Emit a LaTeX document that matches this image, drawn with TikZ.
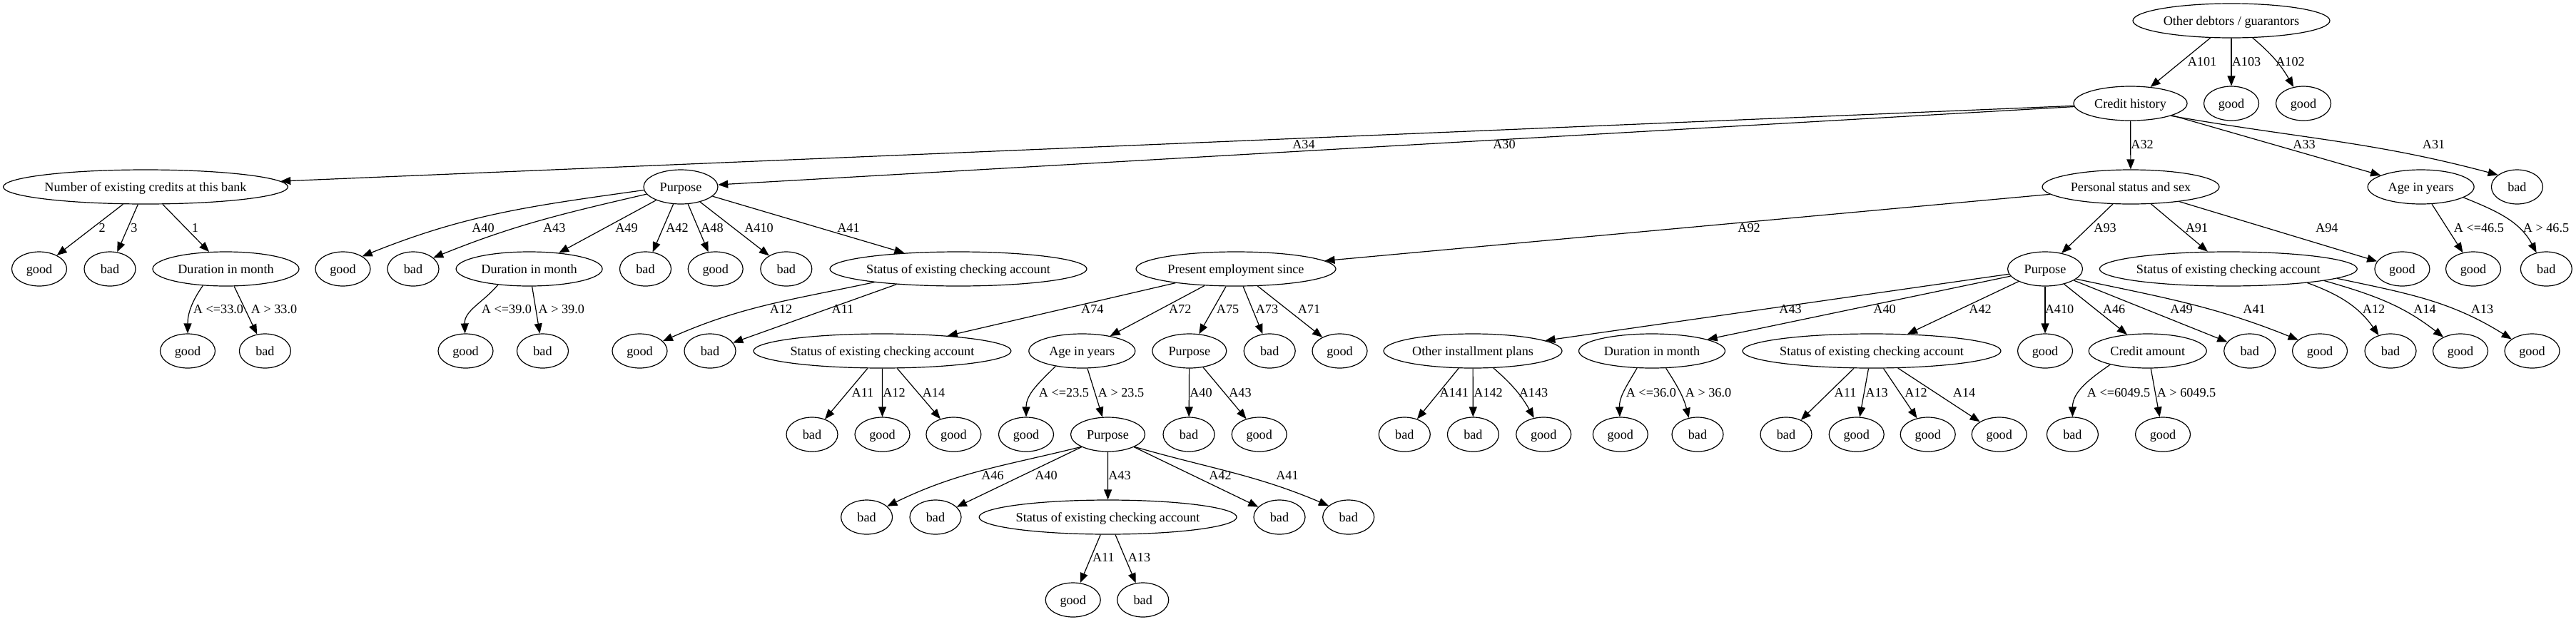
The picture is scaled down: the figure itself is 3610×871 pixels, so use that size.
\documentclass[tikz,border=0pt]{standalone}
\usepackage{fontspec}
\setmainfont{Liberation Serif}
\usetikzlibrary{shapes.geometric,arrows.meta}
\newcommand\nf{\fontsize{18.2}{21}\selectfont}
\newcommand\nt[1]{\makebox[0pt]{#1}}
\begin{document}
\begin{tikzpicture}[x=1pt,y=1pt,
  nd/.style={draw, ellipse, line width=1.2pt, inner sep=0pt, minimum height=48pt, text height=12pt, text depth=0pt, font=\nf},
  gd/.style={nd, minimum width=77pt},
  bd/.style={nd, minimum width=72pt},
  ar/.style={line width=1.2pt, -{Triangle[length=14pt,width=11pt]}},
  el/.style={inner sep=0pt, text height=12pt, text depth=0pt, font=\nf}]
\useasboundingbox (0,0) rectangle (3610,-871);
% row 0-1
\node[nd, minimum width=276pt] (root) at (3127,-29) {\nt{Other debtors / guarantors}};
\node[nd, minimum width=159pt] (ch) at (2985.5,-145) {\nt{Credit history}};
\node[gd] (g103) at (3127,-145) {\nt{good}};
\node[gd] (g102) at (3228,-145) {\nt{good}};
% row 2
\node[nd, minimum width=399pt] (nec) at (204,-262) {\nt{Number of existing credits at this bank}};
\node[nd, minimum width=104pt] (p30) at (954,-262) {\nt{Purpose}};
\node[nd, minimum width=248pt] (pss) at (2986,-262) {\nt{Personal status and sex}};
\node[nd, minimum width=149pt] (age33) at (3392.6,-262) {\nt{Age in years}};
\node[bd] (b31) at (3527.4,-262) {\nt{bad}};
% row 3
\node[gd] (g2) at (55,-377) {\nt{good}};
\node[bd] (b3) at (154,-377) {\nt{bad}};
\node[nd, minimum width=205pt] (dur1) at (316.5,-377) {\nt{Duration in month}};
\node[gd] (g40) at (480.5,-377) {\nt{good}};
\node[bd] (b43) at (579,-377) {\nt{bad}};
\node[nd, minimum width=205pt] (dur49) at (741.6,-377) {\nt{Duration in month}};
\node[bd] (b42) at (904.5,-377) {\nt{bad}};
\node[gd] (g48) at (1002.7,-377) {\nt{good}};
\node[bd] (b410) at (1101.8,-377) {\nt{bad}};
\node[nd, minimum width=360pt] (s41) at (1343,-377) {\nt{Status of existing checking account}};
\node[nd, minimum width=280pt] (pes) at (1732,-377) {\nt{Present employment since}};
\node[nd, minimum width=105pt] (p93) at (2866,-377) {\nt{Purpose}};
\node[nd, minimum width=361pt] (s91) at (3122.8,-377) {\nt{Status of existing checking account}};
\node[gd] (g94) at (3366.4,-377) {\nt{good}};
\node[gd] (g465) at (3466,-377) {\nt{good}};
\node[bd] (b465) at (3568.3,-377) {\nt{bad}};
% row 4
\node[gd] (g33) at (263,-492) {\nt{good}};
\node[bd] (b33) at (371.4,-492) {\nt{bad}};
\node[gd] (g39) at (652.5,-492) {\nt{good}};
\node[bd] (b39) at (760.5,-492) {\nt{bad}};
\node[gd] (g12a) at (896.5,-492) {\nt{good}};
\node[bd] (b11a) at (995,-492) {\nt{bad}};
\node[nd, minimum width=361pt] (s74) at (1236.4,-492) {\nt{Status of existing checking account}};
\node[nd, minimum width=149pt] (age72) at (1516.3,-492) {\nt{Age in years}};
\node[nd, minimum width=104pt] (p75) at (1666.8,-492) {\nt{Purpose}};
\node[bd] (b73) at (1779.2,-492) {\nt{bad}};
\node[gd] (g71) at (1877.5,-492) {\nt{good}};
\node[nd, minimum width=250pt] (oip) at (2064,-492) {\nt{Other installment plans}};
\node[nd, minimum width=205pt] (dur40) at (2315,-492) {\nt{Duration in month}};
\node[nd, minimum width=362pt] (s42) at (2623,-492) {\nt{Status of existing checking account}};
\node[gd] (g410) at (2866,-492) {\nt{good}};
\node[nd, minimum width=165pt] (ca) at (3009.7,-492) {\nt{Credit amount}};
\node[bd] (b49) at (3152.7,-492) {\nt{bad}};
\node[gd] (g41) at (3251,-492) {\nt{good}};
\node[bd] (b12b) at (3350,-492) {\nt{bad}};
\node[gd] (g14b) at (3448,-492) {\nt{good}};
\node[gd] (g13b) at (3548.5,-492) {\nt{good}};
% row 5
\node[bd] (b11c) at (1138,-609) {\nt{bad}};
\node[gd] (g12c) at (1236.5,-609) {\nt{good}};
\node[gd] (g14c) at (1336.4,-609) {\nt{good}};
\node[gd] (g235) at (1438,-609) {\nt{good}};
\node[nd, minimum width=104pt] (p235) at (1552.5,-609) {\nt{Purpose}};
\node[bd] (b40d) at (1666,-609) {\nt{bad}};
\node[gd] (g43d) at (1764.7,-609) {\nt{good}};
\node[bd] (b141) at (1968.3,-609) {\nt{bad}};
\node[bd] (b142) at (2064.4,-609) {\nt{bad}};
\node[gd] (g143) at (2163.2,-609) {\nt{good}};
\node[gd] (g36) at (2270.8,-609) {\nt{good}};
\node[bd] (b36) at (2379,-609) {\nt{bad}};
\node[bd] (b11e) at (2503,-609) {\nt{bad}};
\node[gd] (g13e) at (2601.7,-609) {\nt{good}};
\node[gd] (g12e) at (2701.7,-609) {\nt{good}};
\node[gd] (g14e) at (2801.7,-609) {\nt{good}};
\node[bd] (b6049) at (2904.4,-609) {\nt{bad}};
\node[gd] (g6049) at (3031,-609) {\nt{good}};
% row 6
\node[bd] (b46f) at (1214.6,-725) {\nt{bad}};
\node[bd] (b40f) at (1311,-725) {\nt{bad}};
\node[nd, minimum width=361pt] (s43f) at (1552.6,-725) {\nt{Status of existing checking account}};
\node[bd] (b42f) at (1793,-725) {\nt{bad}};
\node[bd] (b41f) at (1889.7,-725) {\nt{bad}};
% row 7
\node[gd] (g11g) at (1503.7,-841) {\nt{good}};
\node[bd] (b13g) at (1601.7,-841) {\nt{bad}};

% edges
\draw[ar] (root) -- (ch);
\draw[ar] (root) -- (g103);
\draw[ar] (root) to[bend left=10] (g102);
\draw[ar] (ch) -- (nec);
\draw[ar] (ch) -- (p30);
\draw[ar] (ch) -- (pss);
\draw[ar] (ch) -- (age33);
\draw[ar] (ch.-17) to[out=-10, in=165] (b31.148);
\draw[ar] (nec) -- (g2);
\draw[ar] (nec) -- (b3);
\draw[ar] (nec) -- (dur1);
\draw[ar] (p30.185) to[out=188, in=22] (g40.33);
\draw[ar] (p30.192) to[out=193, in=22] (b43.29);
\draw[ar] (p30) -- (dur49);
\draw[ar] (p30) -- (b42);
\draw[ar] (p30) -- (g48);
\draw[ar] (p30) -- (b410);
\draw[ar] (p30) -- (s41);
\draw[ar] (pss) -- (pes);
\draw[ar] (pss) -- (p93);
\draw[ar] (pss) -- (s91);
\draw[ar] (pss) -- (g94);
\draw[ar] (age33) -- (g465);
\draw[ar] (age33.-14) to[out=-22, in=118] (b465.121);
\draw[ar] (dur1.-144) to[out=-125, in=90] (g33);
\draw[ar] (dur1) -- (b33);
\draw[ar] (dur49.-153) to[out=-130, in=92] (g39);
\draw[ar] (dur49) -- (b39);
\draw[ar] (s41.-171) to[out=192, in=24] (g12a.23);
\draw[ar] (s41.-166) -- (b11a);
\draw[ar] (pes) -- (s74);
\draw[ar] (pes) -- (age72);
\draw[ar] (pes) -- (p75);
\draw[ar] (pes) -- (b73);
\draw[ar] (pes) -- (g71);
\draw[ar] (p93) -- (oip);
\draw[ar] (p93) -- (dur40);
\draw[ar] (p93) -- (s42);
\draw[ar] (p93) -- (g410);
\draw[ar] (p93) -- (ca);
\draw[ar] (p93) -- (b49);
\draw[ar] (p93.-18) to[out=-12, in=158] (g41.153);
\draw[ar] (s91.-10) to[out=-20, in=125] (b12b.127);
\draw[ar] (s91.-7) to[out=-16, in=142] (g14b.141);
\draw[ar] (s91.-5) to[out=-12, in=148] (g13b.150);
\draw[ar] (s74) -- (b11c);
\draw[ar] (s74) -- (g12c);
\draw[ar] (s74) -- (g14c);
\draw[ar] (age72.-150) to[out=-135, in=90] (g235);
\draw[ar] (age72) -- (p235);
\draw[ar] (p75) -- (b40d);
\draw[ar] (p75) -- (g43d);
\draw[ar] (oip) -- (b141);
\draw[ar] (oip) -- (b142);
\draw[ar] (oip) to[bend left=10] (g143);
\draw[ar] (dur40.-131) to[out=-120, in=92] (g36);
\draw[ar] (dur40.-51) to[out=-57, in=104] (b36.118);
\draw[ar] (s42) -- (b11e);
\draw[ar] (s42) -- (g13e);
\draw[ar] (s42) -- (g12e);
\draw[ar] (s42) -- (g14e);
\draw[ar] (ca.-160) to[out=-145, in=90] (b6049);
\draw[ar] (ca) -- (g6049);
\draw[ar] (p235.-155) to[out=194, in=26] (b46f.28);
\draw[ar] (p235) -- (b40f);
\draw[ar] (p235) -- (s43f);
\draw[ar] (p235) -- (b42f);
\draw[ar] (p235.-25) to[out=-16, in=157] (b41f.150);
\draw[ar] (s43f) -- (g11g);
\draw[ar] (s43f) -- (b13g);

% edge labels
\node[el] (l1) at (3086,-86.7) {A101};
\node[el] (l2) at (3148,-86.7) {A103};
\node[el] (l3) at (3209.5,-86.7) {A102};
\node[el] (l4) at (1827,-202.3) {A34};
\node[el] (l5) at (2108,-202.3) {A30};
\node[el] (l6) at (3002,-202.3) {A32};
\node[el] (l7) at (3229,-202.3) {A33};
\node[el] (l8) at (3410.6,-202.3) {A31};
\node[el] (l9) at (143.2,-319) {2};
\node[el] (l10) at (188,-319) {3};
\node[el] (l11) at (273.5,-319) {1};
\node[el] (l12) at (677,-319) {A40};
\node[el] (l13) at (776.7,-319) {A43};
\node[el] (l14) at (878,-319) {A49};
\node[el] (l15) at (949,-319) {A42};
\node[el] (l16) at (998,-319) {A48};
\node[el] (l17) at (1063.5,-319) {A410};
\node[el] (l18) at (1189,-319) {A41};
\node[el] (l19) at (2451,-319) {A92};
\node[el] (l20) at (2950,-319) {A93};
\node[el] (l21) at (3078.4,-319) {A91};
\node[el] (l22) at (3260.8,-319) {A94};
\node[el] (l23) at (3473.8,-319) {A <=46.5};
\node[el] (l24) at (3568,-319) {A > 46.5};
\node[el] (l25) at (306,-433.3) {A <=33.0};
\node[el] (l26) at (384,-433.3) {A > 33.0};
\node[el] (l27) at (710,-433.3) {A <=39.0};
\node[el] (l28) at (786.8,-433.3) {A > 39.0};
\node[el] (l29) at (1094.6,-433.3) {A12};
\node[el] (l30) at (1181,-433.3) {A11};
\node[el] (l31) at (1530.8,-433.3) {A74};
\node[el] (l32) at (1653.7,-433.3) {A72};
\node[el] (l33) at (1720.6,-433.3) {A75};
\node[el] (l34) at (1775.5,-433.3) {A73};
\node[el] (l35) at (1834.5,-433.3) {A71};
\node[el] (l36) at (2509,-433.3) {A43};
\node[el] (l37) at (2641,-433.3) {A40};
\node[el] (l38) at (2775,-433.3) {A42};
\node[el] (l39) at (2886,-433.3) {A410};
\node[el] (l40) at (2962.6,-433.3) {A46};
\node[el] (l41) at (3057,-433.3) {A49};
\node[el] (l42) at (3159,-433.3) {A41};
\node[el] (l43) at (3326.5,-433.3) {A12};
\node[el] (l44) at (3398,-433.3) {A14};
\node[el] (l45) at (3478.6,-433.3) {A13};
\node[el] (l46) at (1209,-550) {A11};
\node[el] (l47) at (1253,-550) {A12};
\node[el] (l48) at (1308.5,-550) {A14};
\node[el] (l49) at (1491,-550) {A <=23.5};
\node[el] (l50) at (1571,-550) {A > 23.5};
\node[el] (l51) at (1683,-550) {A40};
\node[el] (l52) at (1738,-550) {A43};
\node[el] (l53) at (2037.7,-550) {A141};
\node[el] (l54) at (2085.6,-550) {A142};
\node[el] (l55) at (2149,-550) {A143};
\node[el] (l56) at (2313.8,-550) {A <=36.0};
\node[el] (l57) at (2394,-550) {A > 36.0};
\node[el] (l58) at (2586,-550) {A11};
\node[el] (l59) at (2630,-550) {A13};
\node[el] (l60) at (2685,-550) {A12};
\node[el] (l61) at (2752.6,-550) {A14};
\node[el] (l62) at (2969,-550) {A <=6049.5};
\node[el] (l63) at (3064,-550) {A > 6049.5};
\node[el] (l64) at (1391,-666.7) {A46};
\node[el] (l65) at (1466,-666.7) {A40};
\node[el] (l66) at (1569,-666.7) {A43};
\node[el] (l67) at (1710,-666.7) {A42};
\node[el] (l68) at (1804,-666.7) {A41};
\node[el] (l69) at (1546.4,-781.7) {A11};
\node[el] (l70) at (1596.5,-781.7) {A13};
\end{tikzpicture}
\end{document}
